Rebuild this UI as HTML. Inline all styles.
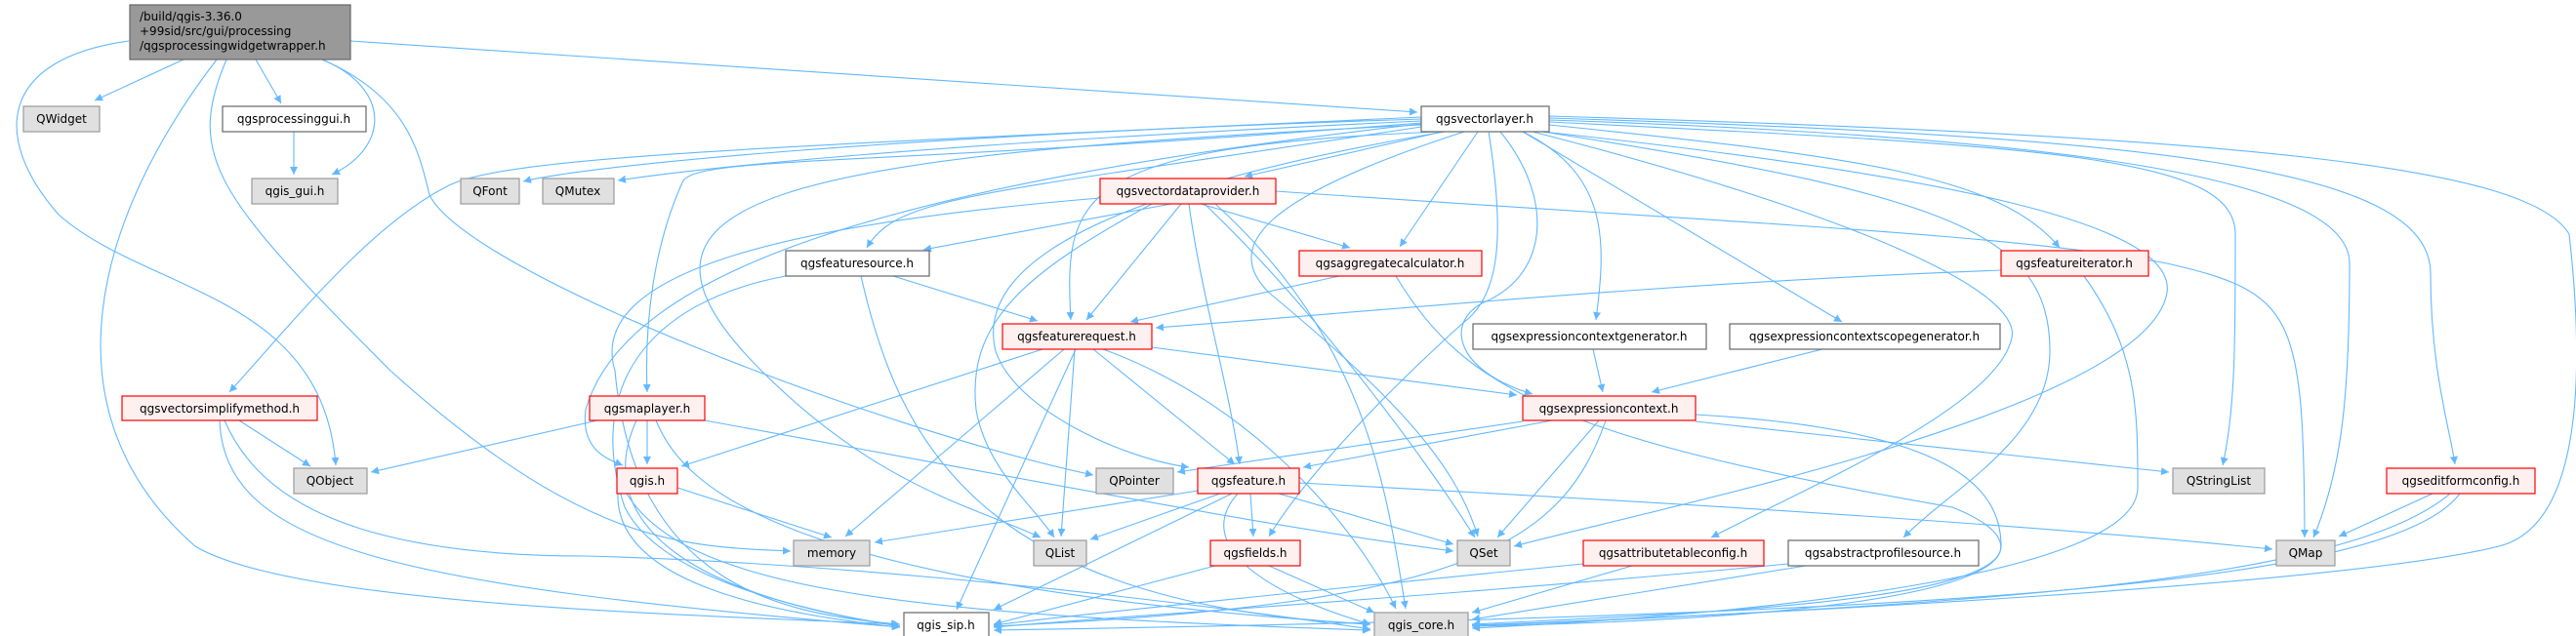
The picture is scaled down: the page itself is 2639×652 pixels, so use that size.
<!DOCTYPE html>
<html><head><meta charset="utf-8"><style>
html,body{margin:0;padding:0;background:#fff;}
svg{display:block}
text{font-family:"DejaVu Sans","Liberation Sans",sans-serif;font-size:12px;fill:#000}
.e{fill:none;stroke:#63b8ff;stroke-width:1.1}
.g{fill:#e0e0e0;stroke:#999;stroke-width:1.2}
.w{fill:#fff;stroke:#666;stroke-width:1.2}
.r{fill:#fff0f0;stroke:#ff0000;stroke-width:1.2}
</style></head><body>
<svg width="2639" height="652" viewBox="0 0 2639 652" xmlns="http://www.w3.org/2000/svg">
<defs><marker id="a" viewBox="0 0 10 10" refX="10" refY="5" markerWidth="8" markerHeight="8" orient="auto" markerUnits="userSpaceOnUse"><path d="M0,0 L10,5 L0,10 z" fill="#63b8ff"/></marker></defs>
<g class="e" marker-end="url(#a)">
<path d="M188,61 L97,103"/>
<path d="M262,61 L288,106"/>
<path d="M330,61 C400,90 400,150 340,179"/>
<path d="M132,42 C0,60 -10,140 60,220 C150,300 330,300 344,477"/>
<path d="M222,61 C100,220 40,420 200,560 C300,620 700,630 921,640"/>
<path d="M232,61 C190,160 220,200 400,380 C600,560 700,560 810,565"/>
<path d="M330,61 C420,100 430,160 440,200 C480,280 900,440 1120,487"/>
<path d="M359,42 L1452,115"/>
<path d="M301,135 L301,179"/>
<path d="M1456,122 C900,140 600,170 536,186"/>
<path d="M1456,124 C900,150 700,175 633,185"/>
<path d="M1456,120 C800,150 520,160 460,190 C380,230 300,330 235,402"/>
<path d="M1456,126 C900,170 720,160 700,185 C670,250 660,330 663,402"/>
<path d="M1456,127 C900,190 640,280 600,420 C595,460 620,470 638,477"/>
<path d="M1456,128 C800,160 600,200 780,380 C900,500 1000,520 1066,551"/>
<path d="M1456,130 C1000,200 920,200 888,254"/>
<path d="M1475,135 C1100,150 1090,200 1097,328"/>
<path d="M1478,135 L1275,181"/>
<path d="M1514,135 L1434,253"/>
<path d="M1480,135 C1100,200 1000,280 1020,360 C1040,420 1150,470 1218,479"/>
<path d="M1525,135 C1540,230 1540,300 1500,330 C1400,420 1330,500 1300,550"/>
<path d="M1537,135 C1590,200 1590,280 1520,310 C1480,330 1490,380 1570,404"/>
<path d="M1500,135 C1300,200 1250,250 1300,300 C1420,400 1490,470 1514,550"/>
<path d="M1560,135 C1650,180 1645,250 1635,328"/>
<path d="M1560,135 L1887,330"/>
<path d="M1570,135 C1900,220 2080,300 2060,350 C2040,420 1850,500 1753,551"/>
<path d="M1580,135 C2000,200 2100,240 2100,360 C2100,450 2000,500 1950,551"/>
<path d="M1580,135 C2000,180 2230,230 2220,300 C2200,420 1700,520 1551,560"/>
<path d="M1587,128 C1900,160 2050,180 2110,254"/>
<path d="M1587,125 C2100,150 2290,160 2290,240 C2290,350 2290,420 2277,477"/>
<path d="M1587,123 C2100,140 2407,180 2407,270 C2407,400 2400,480 2370,551"/>
<path d="M1587,121 C2200,140 2490,170 2490,280 C2490,380 2510,440 2515,476"/>
<path d="M1587,119 C2300,140 2590,170 2632,240 C2650,400 2640,540 2560,560 C2400,600 1800,630 1508,641"/>
<path d="M1200,209 L946,256"/>
<path d="M1210,209 L1113,328"/>
<path d="M1230,209 L1383,254"/>
<path d="M1218,209 C1230,300 1260,400 1270,476"/>
<path d="M1180,209 C1050,280 990,330 1000,420 C1010,480 1060,520 1080,551"/>
<path d="M1234,209 C1350,320 1460,470 1511,551"/>
<path d="M1307,196 C1800,230 2060,240 2220,270 C2350,300 2360,320 2361,551"/>
<path d="M1245,209 C1400,350 1420,500 1440,624"/>
<path d="M1127,203 C800,230 600,280 630,380 C650,600 800,630 922,640"/>
<path d="M915,283 L1063,329"/>
<path d="M882,283 C920,450 1000,620 1404,640"/>
<path d="M805,283 C660,310 600,400 640,520 C680,600 850,630 922,642"/>
<path d="M1372,283 L1158,330"/>
<path d="M1430,283 C1500,400 1600,450 2000,520 C2100,560 2100,630 1508,642"/>
<path d="M2050,277 C1700,290 1400,320 1184,336"/>
<path d="M2135,283 C2190,360 2190,420 2190,500 C2190,590 1800,630 1508,644"/>
<path d="M1068,358 L698,478"/>
<path d="M1090,358 L866,550"/>
<path d="M1101,358 L1087,550"/>
<path d="M1102,358 L980,625"/>
<path d="M1120,358 L1265,476"/>
<path d="M1180,356 L1554,405"/>
<path d="M1130,358 C1300,420 1400,560 1430,624"/>
<path d="M1632,358 L1642,402"/>
<path d="M1867,358 L1692,402"/>
<path d="M1560,432 L1206,484"/>
<path d="M1590,431 L1335,479"/>
<path d="M1638,431 L1534,551"/>
<path d="M1645,431 C1600,560 1500,620 1018,642"/>
<path d="M1737,432 L2222,484"/>
<path d="M1737,425 C2000,440 2050,500 2050,560 C2050,620 1700,630 1508,640"/>
<path d="M612,431 L380,484"/>
<path d="M663,431 L663,476"/>
<path d="M722,431 C1100,500 1300,540 1489,565"/>
<path d="M672,431 C700,500 800,600 1404,640"/>
<path d="M652,431 C620,500 640,600 922,642"/>
<path d="M245,431 L318,478"/>
<path d="M225,431 C230,560 400,600 922,643"/>
<path d="M230,431 C260,500 340,570 600,570 C800,575 1100,600 1404,645"/>
<path d="M694,500 L852,551"/>
<path d="M633,506 C630,600 800,630 922,643"/>
<path d="M642,506 C700,600 900,630 1404,646"/>
<path d="M1227,503 L896,556"/>
<path d="M1250,506 L1117,553"/>
<path d="M1310,506 L1489,558"/>
<path d="M1281,506 L1284,550"/>
<path d="M1331,495 C1800,520 2100,540 2328,563"/>
<path d="M1262,506 L1018,625"/>
<path d="M1268,506 C1220,560 1300,610 1404,640"/>
<path d="M1245,580 L1018,640"/>
<path d="M1300,580 L1408,628"/>
<path d="M1622,578 C1400,600 1100,630 1018,641"/>
<path d="M1672,580 L1508,628"/>
<path d="M1832,578 C1500,610 1100,635 1018,643"/>
<path d="M1850,580 L1508,635"/>
<path d="M2492,506 L2396,550"/>
<path d="M2510,506 C2400,600 2000,620 1508,642"/>
<path d="M2520,506 C2450,600 2000,630 1018,646"/>
</g>
<rect x="133" y="5" width="226" height="56" fill="#999" stroke="#666" stroke-width="1.2"/>
<text x="143" y="21">/build/qgis-3.36.0</text>
<text x="143" y="36">+99sid/src/gui/processing</text>
<text x="143" y="51">/qgsprocessingwidgetwrapper.h</text>
<g text-anchor="middle">
<rect class="g" x="24" y="109" width="78" height="26"/><text x="63" y="126">QWidget</text>
<rect class="w" x="228" y="109" width="147" height="26"/><text x="301" y="126">qgsprocessinggui.h</text>
<rect class="g" x="258" y="183" width="88" height="26"/><text x="302" y="200">qgis_gui.h</text>
<rect class="g" x="472" y="183" width="60" height="26"/><text x="502" y="200">QFont</text>
<rect class="g" x="556" y="183" width="73" height="26"/><text x="592" y="200">QMutex</text>
<rect class="r" x="125" y="406" width="200" height="25"/><text x="225" y="423">qgsvectorsimplifymethod.h</text>
<rect class="g" x="301" y="480" width="75" height="26"/><text x="338" y="497">QObject</text>
<rect class="r" x="604" y="406" width="118" height="25"/><text x="663" y="423">qgsmaplayer.h</text>
<rect class="r" x="632" y="480" width="62" height="26"/><text x="663" y="497">qgis.h</text>
<rect class="r" x="1127" y="183" width="180" height="26"/><text x="1217" y="200">qgsvectordataprovider.h</text>
<rect class="w" x="805" y="257" width="147" height="26"/><text x="878" y="274">qgsfeaturesource.h</text>
<rect class="r" x="1027" y="332" width="153" height="26"/><text x="1103" y="349">qgsfeaturerequest.h</text>
<rect class="g" x="1123" y="480" width="79" height="26"/><text x="1162" y="497">QPointer</text>
<rect class="r" x="1227" y="480" width="104" height="26"/><text x="1279" y="497">qgsfeature.h</text>
<rect class="g" x="813" y="554" width="78" height="26"/><text x="852" y="571">memory</text>
<rect class="g" x="1059" y="554" width="54" height="26"/><text x="1086" y="571">QList</text>
<rect class="r" x="1240" y="554" width="92" height="26"/><text x="1286" y="571">qgsfields.h</text>
<rect class="w" x="926" y="628" width="87" height="25"/><text x="969" y="645">qgis_sip.h</text>
<rect class="w" x="1456" y="109" width="131" height="26"/><text x="1521" y="126">qgsvectorlayer.h</text>
<rect class="r" x="1331" y="257" width="187" height="26"/><text x="1424" y="274">qgsaggregatecalculator.h</text>
<rect class="w" x="1509" y="332" width="239" height="26"/><text x="1628" y="349">qgsexpressioncontextgenerator.h</text>
<rect class="w" x="1772" y="332" width="277" height="26"/><text x="1910" y="349">qgsexpressioncontextscopegenerator.h</text>
<rect class="r" x="1560" y="406" width="177" height="25"/><text x="1648" y="423">qgsexpressioncontext.h</text>
<rect class="g" x="1493" y="554" width="54" height="26"/><text x="1520" y="571">QSet</text>
<rect class="r" x="1622" y="554" width="185" height="26"/><text x="1714" y="571">qgsattributetableconfig.h</text>
<rect class="w" x="1832" y="554" width="195" height="26"/><text x="1929" y="571">qgsabstractprofilesource.h</text>
<rect class="g" x="1408" y="628" width="96" height="25"/><text x="1456" y="645">qgis_core.h</text>
<rect class="r" x="2050" y="257" width="151" height="26"/><text x="2125" y="274">qgsfeatureiterator.h</text>
<rect class="g" x="2226" y="480" width="94" height="26"/><text x="2273" y="497">QStringList</text>
<rect class="r" x="2445" y="480" width="152" height="26"/><text x="2521" y="497">qgseditformconfig.h</text>
<rect class="g" x="2332" y="554" width="60" height="26"/><text x="2362" y="571">QMap</text>
</g>
</svg>
</body></html>
